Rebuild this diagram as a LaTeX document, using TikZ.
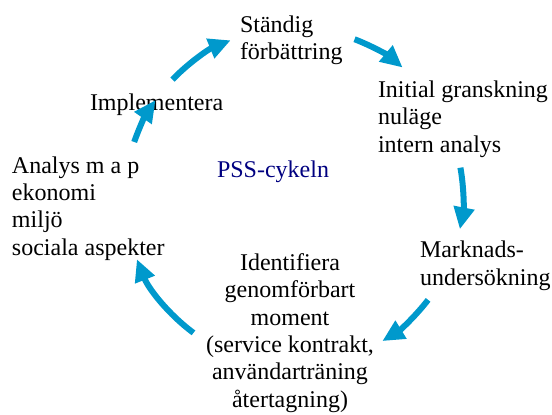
\documentclass[tikz,border=0pt]{standalone}
\usepackage{fontspec}
\setmainfont{Liberation Serif}
\usepackage{xcolor}
\usepackage{tikz}
\usetikzlibrary{arrows.meta,calc}
\definecolor{CycleBlue}{HTML}{0099CC}
\definecolor{TitleNavy}{HTML}{000080}
\tikzset{
  % Base text block (placed by the baseline of its last line)
  TX/.style={inner sep=0pt,outer sep=0pt,align=left,anchor=base west,
             font=\fontsize{24}{27.3}\selectfont,text=black},
  % Centred text block
  TC/.style={TX,align=center,anchor=base},
  % Title
  tP/.style={TX,text=TitleNavy},
  % Cycle arrow
  cyc/.style={-{Triangle[length=22pt,width=20pt]},line width=6pt,draw=CycleBlue}
}
\begin{document}
\begin{tikzpicture}[x=1pt,y=1pt]
  \useasboundingbox (0,0) rectangle (552,-415);
  \coordinate (ctr) at (294,-197);

  \node[TX] (forb) at (240,-59.5) {Ständig\\förbättring};
  \node[TX] (init) at (378,-152) {Initial granskning\\nuläge\\intern analys};
  \node[TX] (mark) at (420,-285) {Marknads-\\undersökning};
  \node[TC] (ident) at (290,-407) {Identifiera\\genomförbart\\moment\\(service kontrakt,\\användarträning\\återtagning)};
  \node[TX] (anal) at (12,-255) {Analys m a p\\ekonomi\\miljö\\sociala aspekter};
  \node[TX] (impl) at (90,-110) {Implementera};
  \node[tP] (pss) at (217,-177) {PSS-cykeln};

  % points on the cycle
  \coordinate (a1) at ($(ctr)+(136:169)$);
  \coordinate (a2) at ($(ctr)+(69:169)$);
  \coordinate (a3) at ($(ctr)+(10:169)$);
  \coordinate (a4) at ($(ctr)+(-37.5:169)$);
  \coordinate (a5) at ($(ctr)+(233.5:169)$);
  \coordinate (a6) at ($(ctr)+(161:169)$);

  \draw[cyc] (a1) arc[start angle=136,end angle=112,radius=169];
  \draw[cyc] (a2) arc[start angle=69,end angle=50,radius=169];
  \draw[cyc] (a3) arc[start angle=10,end angle=-11,radius=169];
  \draw[cyc] (a4) arc[start angle=-37.5,end angle=-58.5,radius=169];
  \draw[cyc] (a5) arc[start angle=233.5,end angle=201.6,radius=169];
  \draw[cyc] (a6) arc[start angle=161,end angle=145,radius=169];
\end{tikzpicture}
\end{document}
